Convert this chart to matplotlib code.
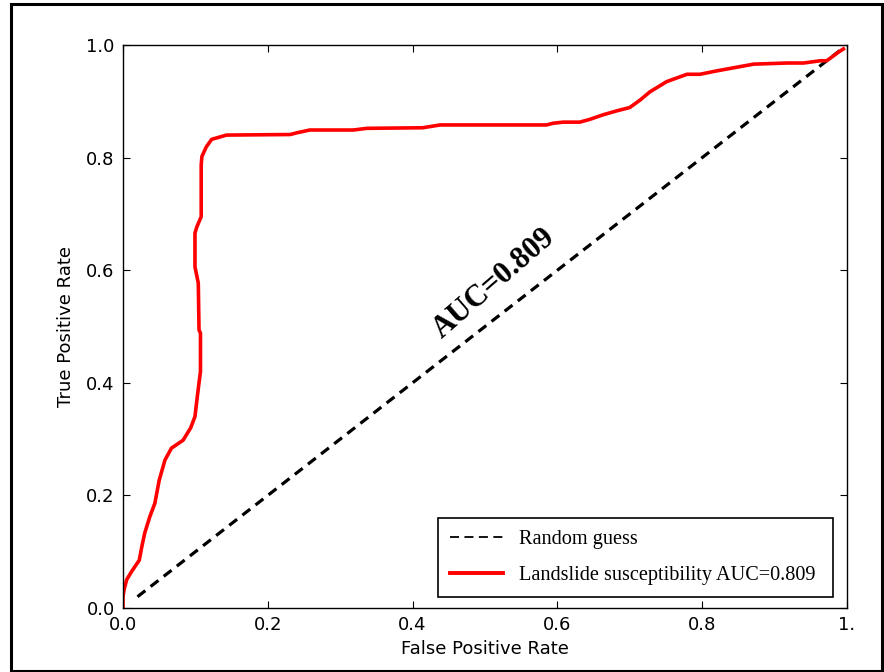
#!/usr/bin/env python3

import matplotlib
matplotlib.use("Agg")
import matplotlib.pyplot as plt
from matplotlib.lines import Line2D
from matplotlib.patches import Rectangle

# ROC curve
FPR = [0.0, 0.0, 0.0014, 0.005, 0.012, 0.0225, 0.026, 0.030, 0.037, 0.044,
       0.050, 0.058, 0.067, 0.083, 0.0935, 0.0994, 0.102, 0.105, 0.107, 0.107,
       0.105, 0.104, 0.0994, 0.0994, 0.102, 0.108, 0.108, 0.109, 0.115, 0.1225,
       0.143, 0.231, 0.240, 0.258, 0.318, 0.337, 0.414, 0.438, 0.585, 0.594,
       0.608, 0.631, 0.645, 0.663, 0.682, 0.700, 0.714, 0.728, 0.751, 0.779,
       0.797, 0.820, 0.871, 0.917, 0.940, 0.963, 0.972, 0.989, 0.995]
TPR = [0.0, 0.02, 0.032, 0.050, 0.065, 0.085, 0.109, 0.133, 0.162, 0.186,
       0.227, 0.263, 0.284, 0.298, 0.320, 0.340, 0.369, 0.400, 0.420, 0.488,
       0.494, 0.577, 0.606, 0.666, 0.677, 0.695, 0.787, 0.802, 0.819, 0.8325,
       0.840, 0.841, 0.844, 0.849, 0.849, 0.852, 0.853, 0.858, 0.858, 0.861,
       0.863, 0.863, 0.868, 0.876, 0.883, 0.889, 0.902, 0.917, 0.935, 0.948,
       0.948, 0.954, 0.966, 0.968, 0.968, 0.972, 0.972, 0.988, 0.993]

GUESS = [0.02, 0.99]
TICKS = [0.0, 0.2, 0.4, 0.6, 0.8, 1.0]
X_TICK_LABELS = ["0.0", "0.2", "0.4", "0.6", "0.8", "1."]
Y_TICK_LABELS = ["0.0", "0.2", "0.4", "0.6", "0.8", "1.0"]
AUC = 0.809

fig = plt.figure(figsize=(8.84, 6.72), dpi=100)
ax = fig.add_axes([123 / 884, 1 - 608 / 672, 724 / 884, 563 / 672])

ax.plot(GUESS, GUESS, color="black", lw=2.3, linestyle=(0, (3.1, 2.1)))
ax.plot(FPR, TPR, color="#ff0000", lw=2.6, solid_joinstyle="round")

ax.set_xlim(0, 1)
ax.set_ylim(0, 1)
ax.set_xticks(TICKS)
ax.set_xticklabels(X_TICK_LABELS)
ax.set_yticks(TICKS)
ax.set_yticklabels(Y_TICK_LABELS)
ax.tick_params(direction="in", length=5, top=True, right=True, labelsize=13, pad=6)
for s in ax.spines.values():
    s.set_linewidth(1.0)

ax.set_xlabel("False Positive Rate", fontsize=13, labelpad=4)
ax.set_ylabel("True Positive Rate", fontsize=13, labelpad=8)

ax.text(0.512, 0.577, f"AUC={AUC}", rotation=41, ha="center", va="center",
        family="Liberation Serif", fontweight="bold", fontsize=22)

handles = [
    Line2D([], [], color="black", lw=1.3, linestyle=(0, (5, 3))),
    Line2D([], [], color="#ff0000", lw=2.8),
]
labels = ["Random guess", f"Landslide susceptibility AUC={AUC}"]
leg = ax.legend(handles, labels, loc="lower left",
                bbox_to_anchor=(0.435, 0.0195, 0.546, 0.135), mode="expand",
                borderaxespad=0,
                prop={"family": "Liberation Serif", "size": 14.6},
                fancybox=False, framealpha=1, edgecolor="black",
                labelspacing=0.8, handlelength=2.6, borderpad=0.6)
leg.get_frame().set_linewidth(1.2)

# outer frame around the whole picture
fig.patches.append(Rectangle((11 / 884, 1 / 672), 871 / 884, 667 / 672,
                             transform=fig.transFigure, fill=False,
                             edgecolor="black", lw=2.2))

fig.savefig("out.png", dpi=100)
